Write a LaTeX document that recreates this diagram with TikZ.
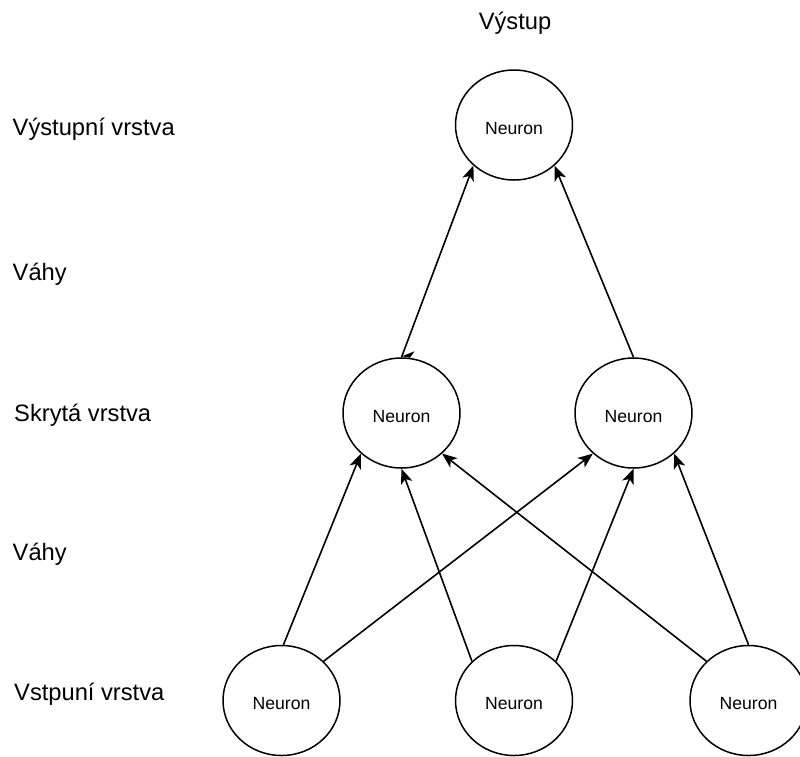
\documentclass[tikz,border=0pt]{standalone}
\usepackage{fontspec}
\setmainfont{Liberation Sans}
\usetikzlibrary{shapes.geometric,arrows.meta,calc}

\tikzset{
  neuron/.style={ellipse, draw=black, line width=1.5pt, fill=white,
    minimum width=117pt, minimum height=110pt, inner sep=0pt,
    text height=18pt, text depth=0pt,
    font=\fontsize{17.6pt}{20pt}\selectfont},
  layerlabel/.style={anchor=base west, inner sep=0pt,
    font=\fontsize{23.7pt}{28pt}\selectfont},
  link/.style={line width=1.6pt, -{Stealth[length=15pt,width=12pt,inset=4pt]}}
}

\begin{document}
\begin{tikzpicture}[x=1pt,y=-1pt]
  \useasboundingbox (0,0) rectangle (800,756);

  % layer captions
  \node[anchor=base, inner sep=0pt, font=\fontsize{23.7pt}{28pt}\selectfont] (title) at (515,29) {Výstup};
  \node[layerlabel] (lblOut) at (12.5,135) {Výstupní vrstva};
  \node[layerlabel] (lblW2) at (12.5,280) {Váhy};
  \node[layerlabel] (lblHid) at (14,421.5) {Skrytá vrstva};
  \node[layerlabel] (lblW1) at (12.5,560.5) {Váhy};
  \node[layerlabel] (lblIn) at (14,700) {Vstpuní vrstva};

  % neurons
  \node[neuron] (out) at (514,125) {Neuron};
  \node[neuron] (hL) at (401.5,413) {Neuron};
  \node[neuron] (hR) at (633.5,413) {Neuron};
  \node[neuron] (iL) at (281.5,700.5) {Neuron};
  \node[neuron] (iM) at (514,700.5) {Neuron};
  \node[neuron] (iR) at (748.5,700.5) {Neuron};

  % input -> hidden
  \draw[link] (iL.88) -- (hL.225);
  \draw[link] (iL.43) -- (hR.225);
  \draw[link] (iM.137) -- (hL.270);
  \draw[link] (iM.43) -- (hR.270);
  \draw[link] (iR.137) -- (hL.315);
  \draw[link] (iR.90) -- (hR.315);

  % hidden -> output
  \draw[link] (hL.90) -- (out.225);
  \draw[link] (hR.90) -- (out.315);

  % small arrow barb left at the lower end of the left upper link
  \fill ($(hL.90)+(0.5,-1)$) -- ($(hL.90)+(13,-6)$) -- ($(hL.90)+(8.5,0.5)$) -- cycle;
\end{tikzpicture}
\end{document}
